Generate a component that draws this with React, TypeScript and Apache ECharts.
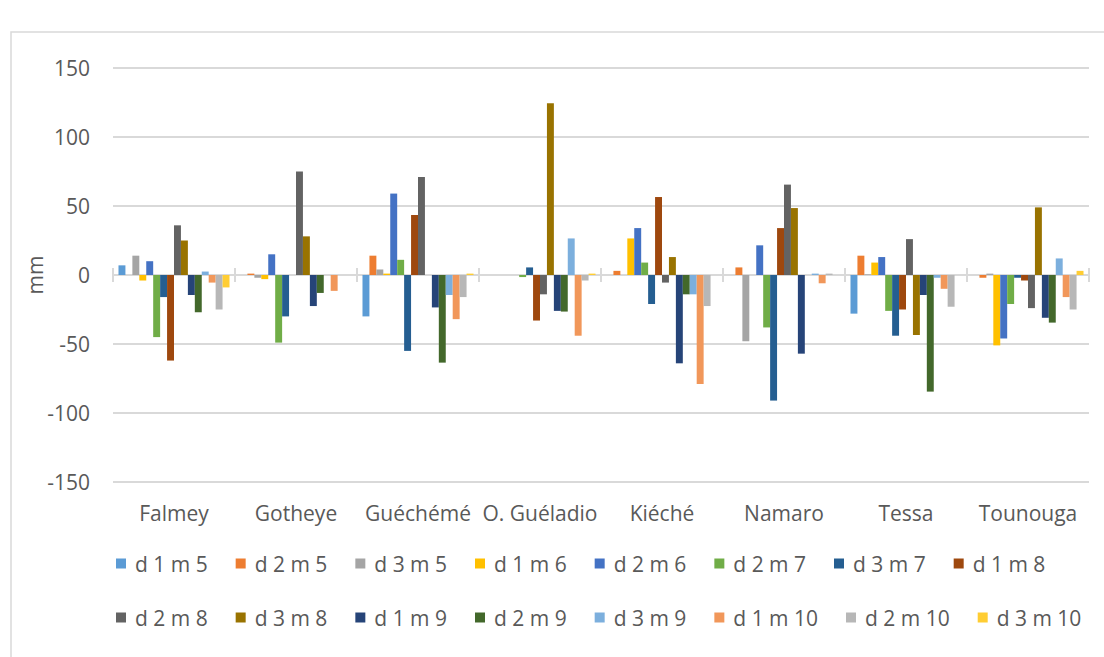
import React, { useEffect, useRef } from "react";
import * as echarts from "echarts";

const categories = ["Falmey", "Gotheye", "Guéchémé", "O. Guéladio", "Kiéché", "Namaro", "Tessa", "Tounouga"];

const seriesNames = [
  "d 1 m 5", "d 2 m 5", "d 3 m 5", "d 1 m 6", "d 2 m 6", "d 2 m 7", "d 3 m 7", "d 1 m 8",
  "d 2 m 8", "d 3 m 8", "d 1 m 9", "d 2 m 9", "d 3 m 9", "d 1 m 10", "d 2 m 10", "d 3 m 10",
];

const d1m5 = [7, 0, -30, 0, 0, 0, -28, 0];
const d2m5 = [0, 1, 14, 0, 3, 5.5, 14, -2];
const d3m5 = [14, -2, 4, 0, 0, -48, 0.5, 1];
const d1m6 = [-4, -3, 1, 0, 26.5, 0, 9, -51];
const d2m6 = [10, 15, 59, 0, 34, 21.5, 13, -46];
const d2m7 = [-45, -49, 11, -1.5, 9, -38, -26, -21];
const d3m7 = [-16, -30, -55, 5.5, -21, -91, -44, -2];
const d1m8 = [-62, 0, 43.5, -33, 56.5, 34, -25, -4];
const d2m8 = [36, 75, 71, -14, -5.5, 65.5, 26, -24];
const d3m8 = [25, 28, 0, 124.5, 13, 48.5, -43.5, 49];
const d1m9 = [-14.5, -22.5, -23.5, -26, -64, -57, -14.5, -31];
const d2m9 = [-27, -13, -63.5, -26.5, -14, 0, -84.5, -34.5];
const d3m9 = [2.5, 0, -14.5, 26.5, -14, 1, -2, 12];
const d1m10 = [-5.5, -11.5, -32, -44, -79, -6, -10, -16];
const d2m10 = [-25, 0, -16, -4, -22.5, 1, -23, -25];
const d3m10 = [-9, 0, 1, 1, 0, 0, 0, 3];

const seriesValues = [d1m5, d2m5, d3m5, d1m6, d2m6, d2m7, d3m7, d1m8, d2m8, d3m8, d1m9, d2m9, d3m9, d1m10, d2m10, d3m10];

const colors = [
  "#5B9BD5", "#ED7D31", "#A5A5A5", "#FFC000", "#4472C4", "#70AD47", "#255E91", "#9E480E",
  "#636363", "#997300", "#264478", "#43682B", "#7CAFDD", "#F1975A", "#B7B7B7", "#FFCD33",
];

const yTicks = { min: -150, max: 150, interval: 50 };
const yAxisTitle = "mm";

const FONT = "'Open Sans', 'Liberation Sans', sans-serif";
const TXT = "#595959";
const GRID = "#D9D9D9";

export default function App() {
  const ref = useRef<HTMLDivElement>(null);
  useEffect(() => {
    if (!ref.current) return;
    const chart = echarts.init(ref.current, undefined, { renderer: "svg" });
    const legendBase = {
      orient: "horizontal",
      left: 111,
      width: 990,
      itemWidth: 10,
      itemHeight: 10,
      itemGap: 28,
      icon: "rect",
      textStyle: { color: TXT, fontSize: 21, fontFamily: FONT, padding: [0, 0, 0, 4] },
    };
    chart.setOption({
      animation: false,
      color: colors,
      textStyle: { fontFamily: FONT },
      grid: { left: 113, right: 15, top: 68, bottom: 175, containLabel: false },
      graphic: [
        {
          type: "rect",
          shape: { x: 11, y: 32, width: 1200, height: 800 },
          style: { fill: "none", stroke: GRID, lineWidth: 1.5 },
          silent: true,
        },
        {
          type: "text",
          x: 35,
          y: 275,
          rotation: Math.PI / 2,
          style: {
            text: yAxisTitle,
            fill: TXT,
            fontSize: 21,
            fontFamily: FONT,
            align: "center",
            verticalAlign: "middle",
          },
          silent: true,
        },
      ],
      legend: [
        { ...legendBase, top: 548, data: seriesNames.slice(0, 8) },
        { ...legendBase, top: 602, data: seriesNames.slice(8) },
      ],
      xAxis: [
        {
          type: "category",
          data: categories,
          position: "bottom",
          axisLine: { show: false, onZero: false },
          axisTick: { show: false },
          axisLabel: { color: TXT, fontSize: 21, fontFamily: FONT, margin: 20, interval: 0 },
        },
        {
          type: "category",
          data: categories,
          position: "bottom",
          axisLine: { show: true, onZero: true, onZeroAxisIndex: 0, lineStyle: { color: GRID, width: 2 } },
          axisTick: { show: true, length: 7, lineStyle: { color: GRID, width: 2 } },
          axisLabel: { show: false },
        },
        {
          type: "category",
          data: categories,
          position: "top",
          axisLine: { show: false, onZero: true, onZeroAxisIndex: 0 },
          axisTick: { show: true, length: 7, lineStyle: { color: GRID, width: 2 } },
          axisLabel: { show: false },
        },
      ],
      yAxis: {
        type: "value",
        min: yTicks.min,
        max: yTicks.max,
        interval: yTicks.interval,
        axisLine: { show: false },
        axisTick: { show: false },
        axisLabel: { color: TXT, fontSize: 21, fontFamily: FONT, margin: 23 },
        splitLine: { lineStyle: { color: GRID, width: 2 } },
      },
      series: seriesNames.map((name, i) => ({
        name,
        type: "bar",
        xAxisIndex: 0,
        data: seriesValues[i],
        barGap: "0%",
        barCategoryGap: "9%",
        itemStyle: { color: colors[i] },
      })),
    });
    return () => chart.dispose();
  }, []);
  return (
    <div
      ref={ref}
      style={{ position: "absolute", left: 0, top: 0, width: 1104, height: 657, background: "#fff" }}
    />
  );
}
